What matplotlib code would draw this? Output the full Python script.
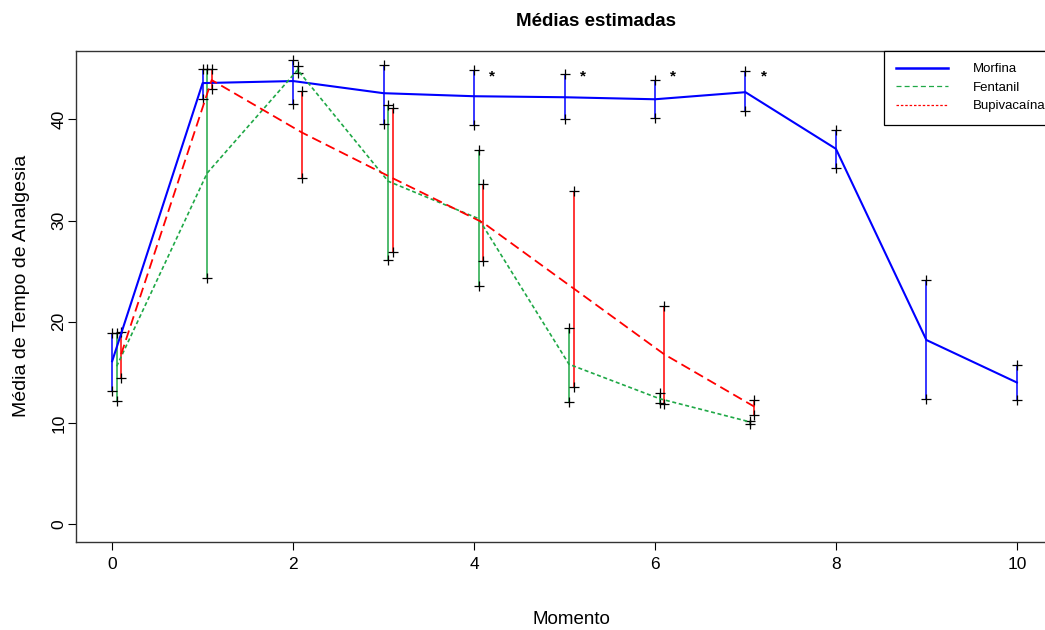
import matplotlib
matplotlib.use('Agg')
import numpy as np
import matplotlib.pyplot as plt
from matplotlib.lines import Line2D

plt.rcParams['font.family'] = ['Liberation Sans', 'DejaVu Sans']

# data
momento_m = [0, 1, 2, 3, 4, 5, 6, 7, 8, 9, 10]
morfina_mean = [16.1, 43.6, 43.8, 42.6, 42.3, 42.2, 42.0, 42.7, 37.1, 18.2, 14.0]
morfina_low = [13.2, 42.0, 41.5, 39.6, 39.5, 40.0, 40.1, 40.8, 35.2, 12.4, 12.3]
morfina_high = [18.9, 45.0, 45.9, 45.4, 44.9, 44.5, 43.9, 44.8, 39.0, 24.1, 15.7]

momento_fb = [0, 1, 2, 3, 4, 5, 6, 7]
fentanil_mean = [15.6, 34.7, 44.9, 33.9, 30.2, 15.8, 12.4, 10.1]
fentanil_low = [12.2, 24.3, 44.6, 26.1, 23.5, 12.1, 12.0, 9.9]
fentanil_high = [18.9, 45.0, 45.3, 41.4, 37.0, 19.4, 13.0, 10.2]

bupi_mean = [16.8, 43.9, 38.7, 34.2, 29.8, 23.3, 16.8, 11.6]
bupi_low = [14.4, 43.0, 34.2, 26.9, 26.0, 13.6, 11.9, 10.8]
bupi_high = [19.0, 45.0, 42.8, 41.1, 33.6, 32.9, 21.6, 12.3]

signif_x = [4, 5, 6, 7]
signif_y = 44.3

groups = ['Morfina', 'Fentanil', 'Bupivacaína']
colors = ['#0000FF', '#1FA846', '#FF0000']
shifts = [0.0, 0.05, 0.1]


def draw_group(ax, x, mean, low, high, color, shift, ls, lw):
    xs = np.array(x) + shift
    ax.vlines(xs, low, high, color=color, lw=1.1, zorder=2)
    ax.plot(xs, low, '+', color='black', ms=6.5, mew=0.9, zorder=3)
    ax.plot(xs, high, '+', color='black', ms=6.5, mew=0.9, zorder=3)
    ax.plot(xs, mean, color=color, ls=ls, lw=lw, zorder=4)


fig = plt.figure(figsize=(10.45, 6.3), dpi=100)
ax = fig.add_axes([0.0727, 0.1392, 0.9350, 0.7803])

draw_group(ax, momento_m, morfina_mean, morfina_low, morfina_high,
           colors[0], shifts[0], '-', 1.5)
draw_group(ax, momento_fb, fentanil_mean, fentanil_low, fentanil_high,
           colors[1], shifts[1], (0, (2.4, 1.6)), 1.2)
draw_group(ax, momento_fb, bupi_mean, bupi_low, bupi_high,
           colors[2], shifts[2], (0, (5.5, 2.8)), 1.3)

for sx in signif_x:
    ax.text(sx + 0.2, signif_y, '*', fontsize=11, fontweight='bold',
            ha='center', va='center')

ax.set_xlim(-0.4, 10.4)
ax.set_ylim(-1.8, 46.8)
ax.set_xticks([0, 2, 4, 6, 8, 10])
ax.set_yticks([0, 10, 20, 30, 40])
ax.tick_params(direction='out', length=6, width=0.8, labelsize=12.5)
ax.tick_params(axis='x', pad=4.5)
ax.tick_params(axis='y', pad=1)
for lab in ax.get_yticklabels():
    lab.set_rotation(90)
    lab.set_va('center')
for sp in ax.spines.values():
    sp.set_linewidth(1.0)
    sp.set_color('#333333')

handles = [Line2D([], [], color=colors[0], lw=1.8, ls='-'),
           Line2D([], [], color=colors[1], lw=0.9, ls=(0, (4, 2.5))),
           Line2D([], [], color=colors[2], lw=0.9, ls=(0, (2, 1.5)))]
# box right edge sits past the cropped axes edge, as in the original
leg = ax.legend(handles, groups, loc='upper right', bbox_to_anchor=(1.005, 1),
                borderaxespad=0, fontsize=9.5, handlelength=3.9,
                handletextpad=1.9, labelspacing=0.47, borderpad=0.95,
                fancybox=False, framealpha=1)
leg.get_frame().set_edgecolor('black')
leg.get_frame().set_linewidth(0.9)

fig.text(595.5 / 1045, 1 - 22 / 630, 'Médias estimadas', fontsize=13.5,
         fontweight='bold', ha='center', va='center')
fig.text(571 / 1045, 1 - 620 / 630, 'Momento', fontsize=13.5,
         ha='center', va='center')
fig.text(22 / 1045, 1 - 286 / 630, 'Média de Tempo de Analgesia', fontsize=14,
         rotation=90, ha='center', va='center')

plt.savefig('out.png', dpi=100)
